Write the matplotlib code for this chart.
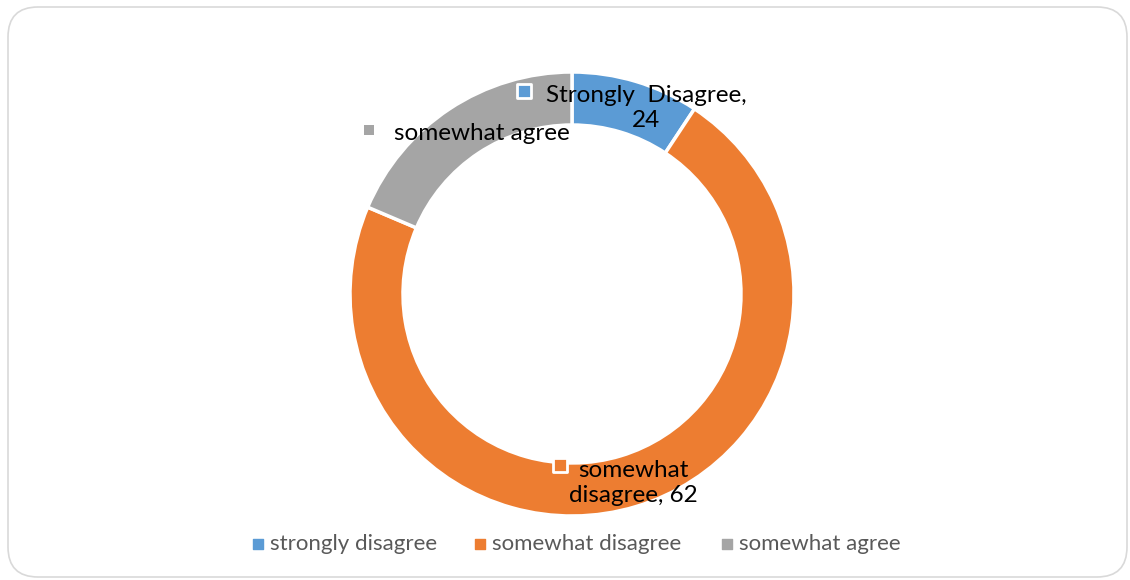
import matplotlib.pyplot as plt
from matplotlib.patches import FancyBboxPatch

# data
categories = ['strongly disagree', 'somewhat disagree', 'somewhat agree']
slice_sizes = [8, 62, 16]          # share of the ring as drawn
label_text = ['Strongly  Disagree,\n24', 'somewhat\ndisagree, 62', 'somewhat agree']
colors = ['#5B9BD5', '#ED7D31', '#A5A5A5']

plt.rcParams['font.family'] = ['Lato', 'DejaVu Sans']

W, H = 1130, 580
fig = plt.figure(figsize=(W / 100, H / 100), dpi=100)
ax = fig.add_axes([0, 0, 1, 1])

# rounded chart border
border = FancyBboxPatch((8, 3), W - 11, H - 10, boxstyle='round,pad=0,rounding_size=30',
                        fc='white', ec='#D9D9D9', lw=1.2, zorder=0)
ax.add_patch(border)

cx, cy, r = 572, H - 294, 222
wedges, _ = ax.pie(slice_sizes, colors=colors, startangle=90, counterclock=False,
                   center=(cx, cy), radius=r, frame=True,
                   wedgeprops=dict(width=53, edgecolor='white', linewidth=2.5))
ax.set_xlim(0, W)
ax.set_ylim(0, H)
ax.set_aspect('equal')
ax.axis('off')

# data labels: (marker x, marker y, text x, text y, ha, white edge)
label_pos = [
    (524, 91, 646, 108, 'center', True),
    (369, 130, 394, 133, 'left', False),
    (560, 465, 633, 483, 'center', True),
]
order = [0, 2, 1]
for i, (mx, my, tx, ty, ha, edge) in zip(order, label_pos):
    ax.scatter([mx], [H - my], marker='s', s=90 if edge else 50, color=colors[i],
               edgecolors='white' if edge else 'none', linewidths=2, zorder=5)
    ax.text(tx, H - ty, label_text[i], ha=ha, va='center', fontsize=17.5,
            color='black', linespacing=1.25, zorder=6)

# legend
leg_x = [258, 480, 727]
for i, name in enumerate(categories):
    ax.scatter([leg_x[i]], [H - 544], marker='s', s=45, color=colors[i], zorder=5)
    ax.text(leg_x[i] + 12, H - 544, name, ha='left', va='center', fontsize=16,
            color='#595959')

fig.savefig('out.png', dpi=100)
